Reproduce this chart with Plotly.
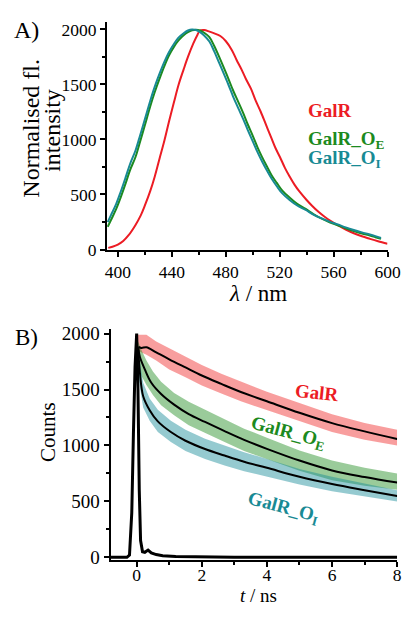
import plotly.graph_objects as go

# ---------------- Panel A: normalised emission spectra ----------------
wl_galr = [392.9, 396, 400, 404, 408, 413, 417, 420, 424, 427.4, 431, 434.5, 438, 441.7,
           445, 448.8, 452, 456, 459, 461, 464, 468, 472, 476, 480, 484.5, 488, 491.7,
           495, 498.8, 502, 505.9, 510, 514, 517, 520.2, 524, 527.4, 531, 534.5, 540,
           544, 549, 553.6, 558, 563, 569, 575, 581, 587, 593, 600]
fl_galr = [15, 25, 45, 78, 130, 221, 310, 398, 530, 664, 830, 988, 1165, 1342,
           1495, 1637, 1750, 1873, 1950, 1990, 1995, 1980, 1962, 1940, 1895, 1814, 1725, 1637,
           1550, 1460, 1360, 1254, 1130, 1010, 920, 841, 740, 664, 590, 530, 450,
           398, 340, 295, 258, 221, 182, 148, 120, 97, 75, 52]

wl_oe = [392.5, 395, 398.8, 402, 405.9, 409, 413.1, 416, 420.2, 424, 427.4, 431, 434.5, 438,
         441.7, 445, 448.8, 452, 455, 458, 461, 464, 467.9, 471.5, 475, 478.5, 482.1, 485.5,
         489.3, 493, 496.4, 500, 503.6, 507, 510.7, 514, 517.9, 522, 527.4, 533, 539.3,
         545, 551.2, 557, 563.1, 569, 575, 581, 586.9, 591, 595.2]
fl_oe = [206, 270, 369, 470, 605, 720, 841, 960, 1136, 1300, 1431, 1555, 1667, 1765,
         1844, 1900, 1947, 1975, 1992, 1998, 1990, 1970, 1930, 1850, 1755, 1655, 1549, 1445,
         1342, 1240, 1136, 1035, 929, 840, 752, 675, 605, 535, 472, 415, 369,
         322, 280, 248, 221, 193, 168, 146, 127, 112, 97]

wl_oi = wl_oe
fl_oi = [250, 315, 415, 520, 660, 775, 900, 1015, 1190, 1350, 1480, 1600, 1705, 1795,
         1870, 1925, 1965, 1990, 2000, 1995, 1975, 1945, 1890, 1800, 1700, 1600, 1495, 1390,
         1285, 1185, 1085, 985, 885, 800, 715, 645, 575, 510, 450, 400, 360,
         318, 283, 253, 228, 201, 177, 156, 137, 122, 105]

# ---------------- Panel B: fluorescence decays ----------------
# instrument response function
t_irf = [-0.8, -0.3, -0.22, -0.15, -0.1, -0.05, 0.0, 0.04, 0.08, 0.12, 0.18, 0.25, 0.35,
         0.45, 0.6, 0.8, 1.2, 2.0, 3.0, 8.0]
c_irf = [0, 0, 20, 400, 1100, 1700, 2000, 1500, 600, 150, 50, 45, 65,
         40, 25, 15, 8, 3, 0, 0]

# measured decays: upper / lower extent of the photon-counting noise
t_d_galr = [0.0, 0.3, 0.6, 1.0, 1.5, 2.0, 2.6, 3.2, 4.0, 5.0, 6.0, 7.0, 8.0]
hi_galr = [1990, 1990, 1930, 1870, 1790, 1720, 1640, 1570, 1480, 1380, 1280, 1200, 1140]
lo_galr = [1850, 1810, 1760, 1680, 1610, 1535, 1465, 1395, 1320, 1220, 1120, 1050, 1000]

t_d_oe = [0.0, 0.15, 0.3, 0.5, 0.75, 1.15, 1.6, 2.1, 2.7, 3.3, 4.0, 5.0, 6.0, 7.0, 8.0]
hi_oe = [1960, 1850, 1760, 1660, 1570, 1470, 1390, 1320, 1230, 1150, 1070, 955, 865, 800, 750]
lo_oe = [1780, 1620, 1540, 1450, 1360, 1270, 1180, 1110, 1030, 950, 880, 775, 690, 640, 605]

t_d_oi = [0.0, 0.1, 0.2, 0.4, 0.65, 1.05, 1.5, 2.1, 2.7, 3.3, 4.0, 5.0, 6.0, 7.0, 8.0]
hi_oi = [1930, 1760, 1560, 1420, 1320, 1220, 1140, 1060, 1000, 940, 880, 790, 720, 660, 600]
lo_oi = [1750, 1520, 1340, 1220, 1120, 1030, 950, 880, 820, 770, 720, 650, 590, 545, 500]

# fitted decay curves
t_f_galr = [0.05, 0.15, 0.3, 0.6, 1.0, 1.5, 2.0, 2.6, 3.2, 4.0, 5.0, 6.0, 7.0, 8.0]
f_galr = [1880, 1872, 1878, 1832, 1770, 1697, 1625, 1550, 1478, 1395, 1292, 1200, 1126, 1058]

t_f_oe = [0.05, 0.1, 0.25, 0.45, 0.75, 1.15, 1.6, 2.1, 2.7, 3.3, 4.0, 5.0, 6.0, 7.0, 8.0]
f_oe = [1870, 1790, 1680, 1560, 1460, 1365, 1280, 1210, 1128, 1050, 970, 865, 777, 718, 668]

t_f_oi = [0.05, 0.1, 0.2, 0.4, 0.65, 1.05, 1.5, 2.1, 2.7, 3.3, 4.0, 5.0, 6.0, 7.0, 8.0]
f_oi = [1860, 1650, 1440, 1315, 1215, 1120, 1042, 968, 910, 855, 800, 720, 655, 600, 548]

RED = "rgb(236,28,36)"
GREEN = "rgb(28,138,32)"
TEAL = "rgb(24,138,148)"
RED_A = "rgba(240,40,40,0.45)"
GREEN_A = "rgba(30,140,30,0.45)"
TEAL_A = "rgba(20,138,150,0.45)"
SERIF = "Liberation Serif, Times New Roman, DejaVu Serif, serif"

fig = go.Figure()

# spectra
for wl, fl, col in [(wl_galr, fl_galr, RED), (wl_oe, fl_oe, GREEN), (wl_oi, fl_oi, TEAL)]:
    fig.add_trace(go.Scatter(x=wl, y=fl, mode="lines", line=dict(color=col, width=2, shape="spline"),
                             xaxis="x", yaxis="y", showlegend=False, hoverinfo="skip"))

# noisy decay data drawn as bands
for t, hi, lo, col in [(t_d_galr, hi_galr, lo_galr, RED_A),
                       (t_d_oe, hi_oe, lo_oe, GREEN_A),
                       (t_d_oi, hi_oi, lo_oi, TEAL_A)]:
    fig.add_trace(go.Scatter(x=t + t[::-1], y=hi + lo[::-1], mode="lines", fill="toself",
                             fillcolor=col, line=dict(width=0, color=col),
                             xaxis="x2", yaxis="y2", showlegend=False, hoverinfo="skip"))

# fits
for t, f in [(t_f_galr, f_galr), (t_f_oe, f_oe), (t_f_oi, f_oi)]:
    fig.add_trace(go.Scatter(x=t, y=f, mode="lines", line=dict(color="black", width=2, shape="spline"),
                             xaxis="x2", yaxis="y2", showlegend=False, hoverinfo="skip"))

# IRF
fig.add_trace(go.Scatter(x=t_irf, y=c_irf, mode="lines", line=dict(color="black", width=3),
                         xaxis="x2", yaxis="y2", showlegend=False, hoverinfo="skip"))

W, H = 414, 617


def axis_style(size):
    return dict(showline=True, linecolor="black", linewidth=2, ticks="outside", ticklen=5,
                tickwidth=1.5, tickcolor="black", showgrid=False, zeroline=False,
                tickfont=dict(family=SERIF, size=size, color="black"), mirror=False)


fig.update_layout(
    width=W, height=H, margin=dict(l=0, r=0, t=0, b=0),
    paper_bgcolor="white", plot_bgcolor="white",
    font=dict(family=SERIF, color="black"),
    xaxis=dict(domain=[109 / W, 400 / W], range=[392, 600], anchor="y",
               tickvals=[400, 440, 480, 520, 560, 600],
               minor=dict(ticks="outside", ticklen=3, dtick=20, tick0=400, tickcolor="black"),
               **axis_style(17.5)),
    yaxis=dict(domain=[(H - 250) / H, (H - 16.7) / H], range=[0, 2065], anchor="x",
               tickvals=[0, 500, 1000, 1500, 2000],
               minor=dict(ticks="outside", ticklen=3, dtick=250, tick0=0, tickcolor="black"),
               **axis_style(17.5)),
    xaxis2=dict(domain=[112.7 / W, 410 / W], range=[-0.8, 8], anchor="y2",
                tickvals=[0, 2, 4, 6, 8], ticklabelstandoff=-7,
                minor=dict(ticks="outside", ticklen=3, dtick=1, tick0=0, tickcolor="black"),
                **axis_style(17.5)),
    yaxis2=dict(domain=[(H - 568.9) / H, (H - 331.7) / H], range=[-25, 2040], anchor="x2",
                tickvals=[0, 500, 1000, 1500, 2000],
                minor=dict(ticks="outside", ticklen=3, dtick=250, tick0=0, tickcolor="black"),
                **axis_style(19)),
)


def ann(text, x, y, size=19, color="black", angle=0, xanchor="center", bold=False,
        yanchor="middle"):
    if bold:
        text = "<b>" + text + "</b>"
    fig.add_annotation(text=text, x=x / W, y=1 - y / H, xref="paper", yref="paper",
                       showarrow=False, textangle=angle, xanchor=xanchor, yanchor=yanchor,
                       font=dict(family=SERIF, size=size, color=color), borderpad=0)


# panel letters
ann("A)", 25, 25, size=24)
ann("B)", 25, 340, size=23)

# axis titles
ann("Normalised fl.", 30, 125, size=24, angle=-90)
ann("intensity", 52, 128, size=24, angle=-90)
ann("<i>λ</i> / nm", 266, 295, size=23)
ann("<i>t</i> / ns", 266, 617, size=19, yanchor="bottom")
ann("Counts", 47, 437, size=21, angle=-90)

# panel A labels
ann("GalR", 316, 107, size=19, color=RED, xanchor="left", bold=True)
ann("GalR_O<sub>E</sub>", 316, 138, size=19, color=GREEN, xanchor="left", bold=True)
ann("GalR_O<sub>I</sub>", 316, 157, size=19, color=TEAL, xanchor="left", bold=True)

# panel B labels
ann("GalR", 327, 397, size=19, color=RED, angle=6, bold=True)
ann("GalR_O<sub>E</sub>", 297, 438, size=19, color=GREEN, angle=15, bold=True)
ann("GalR_O<sub>I</sub>", 292, 515, size=19, color=TEAL, angle=15, bold=True)

fig.write_html("out.html")
